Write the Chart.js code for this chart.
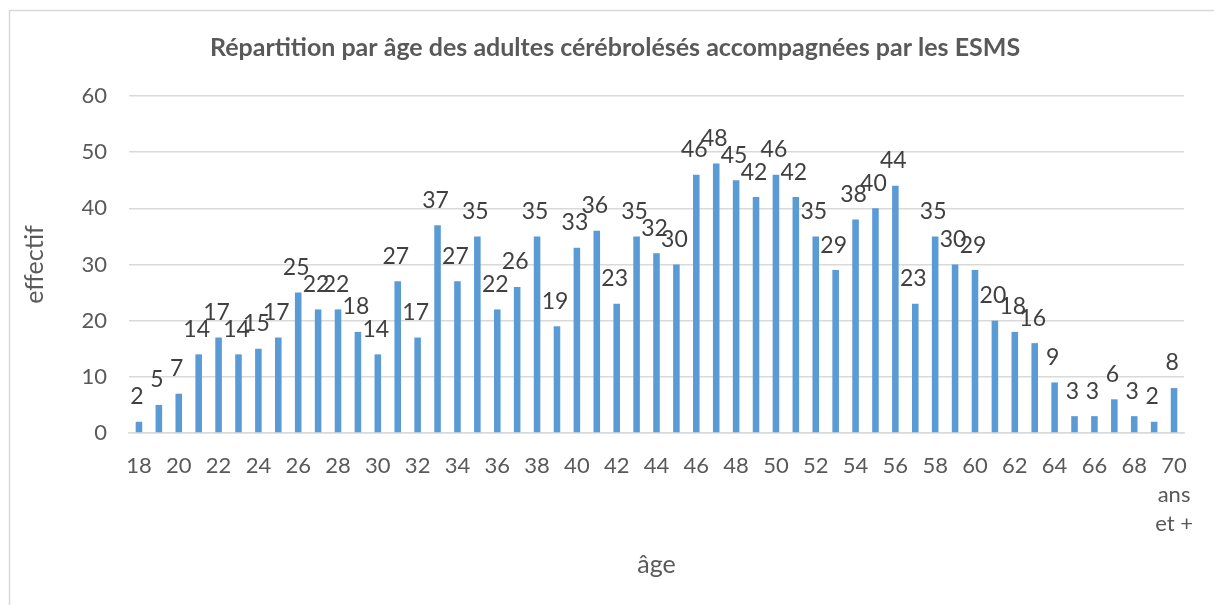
<!DOCTYPE html>
<html lang="fr">

<head>
    <meta charset="UTF-8">
    <title>Répartition par âge</title>
    <style>
        body { margin: 0; background: #fff; }
        #wrap { width: 1214px; height: 605px; }
    </style>
</head>

<body>
    <div id="wrap">
        <canvas id="myChart" width="1214" height="605"></canvas>
    </div>

    <script src="https://cdn.jsdelivr.net/npm/chart.js"></script>

    <script>
        // catégories d'âge
        const ages = ['18', '19', '20', '21', '22', '23', '24', '25', '26', '27',
            '28', '29', '30', '31', '32', '33', '34', '35', '36', '37',
            '38', '39', '40', '41', '42', '43', '44', '45', '46', '47',
            '48', '49', '50', '51', '52', '53', '54', '55', '56', '57',
            '58', '59', '60', '61', '62', '63', '64', '65', '66', '67',
            '68', '69', ['70', 'ans', 'et +']];

        // effectif par âge
        const effectif = [2, 5, 7, 14, 17, 14, 15, 17, 25, 22,
            22, 18, 14, 27, 17, 37, 27, 35, 22, 26,
            35, 19, 33, 36, 23, 35, 32, 30, 46, 48,
            45, 42, 46, 42, 35, 29, 38, 40, 44, 23,
            35, 30, 29, 20, 18, 16, 9, 3, 3, 6,
            3, 2, 8];

        const yTicks = [0, 10, 20, 30, 40, 50, 60];

        const FONT = 'Lato, "Open Sans", sans-serif';

        // cadre gris autour du graphique
        const cadre = {
            id: 'cadre',
            beforeDraw(chart) {
                const c = chart.ctx;
                c.save();
                c.fillStyle = '#fff';
                c.fillRect(0, 0, chart.width, chart.height);
                c.strokeStyle = '#d9d9d9';
                c.lineWidth = 1.5;
                c.strokeRect(9.5, 10.5, chart.width + 10, chart.height + 10);
                c.restore();
            }
        };

        // étiquettes de valeurs au-dessus des barres
        const etiquettes = {
            id: 'etiquettes',
            afterDatasetsDraw(chart) {
                const c = chart.ctx;
                const meta = chart.getDatasetMeta(0);
                c.save();
                c.font = '23px ' + FONT;
                c.fillStyle = '#404040';
                c.textAlign = 'center';
                c.textBaseline = 'middle';
                meta.data.forEach(function(bar, i) {
                    c.fillText(chart.data.datasets[0].data[i], bar.x - 2, bar.y - 25);
                });
                c.restore();
            }
        };

        const ctx = document.getElementById('myChart');

        let chart = new Chart(ctx, {
            type: 'bar',
            data: {
                labels: ages,
                datasets: [{
                    label: 'effectif',
                    data: effectif,
                    backgroundColor: '#5b9bd5',
                    categoryPercentage: 1,
                    barPercentage: 0.33
                }]
            },
            options: {
                responsive: false,
                animation: false,
                layout: {
                    // gauche 46 pour centrer le titre comme l'original
                    padding: { left: 46, right: 30, top: 0, bottom: 0 }
                },
                plugins: {
                    legend: { display: false },
                    tooltip: { enabled: false },
                    title: {
                        display: true,
                        text: 'Répartition par âge des adultes cérébrolésés accompagnées par les ESMS',
                        color: '#595959',
                        font: { family: FONT, size: 25, weight: 'bold' },
                        padding: { top: 33, bottom: 33 }
                    }
                },
                scales: {
                    x: {
                        grid: { display: false, drawTicks: false },
                        border: { color: '#d9d9d9', width: 1.5 },
                        ticks: {
                            autoSkip: false,
                            maxRotation: 0,
                            padding: 18.5,
                            color: '#595959',
                            font: { family: FONT, size: 22, lineHeight: 1.32 },
                            callback: function(val, i) {
                                return i % 2 === 0 ? this.getLabelForValue(val) : null;
                            }
                        },
                        title: {
                            display: true,
                            text: 'âge',
                            color: '#595959',
                            font: { family: FONT, size: 25 },
                            padding: { top: 0, bottom: 25 }
                        },
                        afterFit: function(scale) {
                            scale.height = 172;
                        }
                    },
                    y: {
                        min: 0,
                        max: 60,
                        grid: { color: '#d9d9d9', lineWidth: 1.5, drawTicks: false },
                        border: { display: false },
                        ticks: {
                            stepSize: 10,
                            padding: 22,
                            color: '#595959',
                            font: { family: FONT, size: 22 }
                        },
                        afterBuildTicks: function(scale) {
                            scale.ticks = yTicks.map(v => ({ value: v }));
                        },
                        title: {
                            display: true,
                            text: 'effectif',
                            color: '#595959',
                            font: { family: FONT, size: 25 },
                            padding: { top: -26, bottom: 0 }
                        },
                        afterFit: function(scale) {
                            scale.width = 83;
                        }
                    }
                }
            },
            plugins: [cadre, etiquettes]
        });
    </script>
</body>

</html>
